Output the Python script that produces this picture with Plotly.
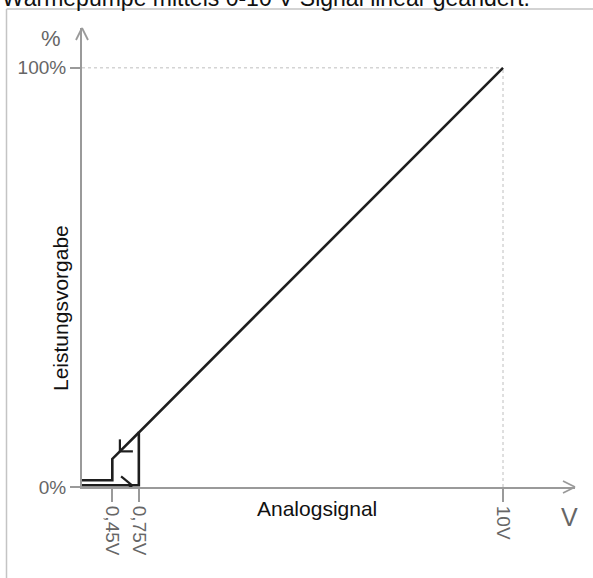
import plotly.graph_objects as go

# Schematische Kennlinie (Diagramm ist nicht maßstäblich: Positionen in "Diagramm-Einheiten")
tick_pos = [0.72, 1.35, 10.0]
tick_labels = ["0,45V", "0,75V", "10V"]
y_tick_vals = [0, 100]
y_tick_labels = ["0%", "100%"]

# Hochlauf: Signal steigt (unterer Pfad)
up_x = [0.0, 1.35, 1.35, 10.0]
up_y = [0.4, 0.4, 13.0, 100.0]
# Rücklauf: Signal fällt (Hysterese)
down_x = [1.35, 0.72, 0.72, 0.0]
down_y = [13.0, 6.7, 1.6, 1.6]

# Pfeilspitzen auf den Kurven
arrow_x = [1.19, 0.9]
arrow_y = [0.4, 8.5]

W, H = 593, 578
L, R, T, B = 82, 18, 28, 91
X_MAX, Y_MAX = 11.71, 109.5
FONT = "Liberation Sans, Arial, sans-serif"
AX = "#9a9a9a"
INK = "#1e1e1e"

fig = go.Figure()
for xs, ys in [(up_x, up_y), (down_x, down_y)]:
    fig.add_trace(go.Scatter(x=xs, y=ys, mode="lines", cliponaxis=False,
                             line=dict(color=INK, width=2.6), hoverinfo="skip"))


def chevron(x, y, arms, color, width, ref="data"):
    # zwei kurze Linien in Pixel-Offsets, verankert an der Spitze
    for dx, dy in arms:
        fig.add_shape(type="line", xref="x" if ref == "data" else "paper",
                      yref="y" if ref == "data" else "paper",
                      xsizemode="pixel", ysizemode="pixel", xanchor=x, yanchor=y,
                      x0=0, y0=0, x1=dx, y1=dy, line=dict(color=color, width=width))


# Pfeil nach rechts (Hochlauf) und nach links unten (Rücklauf)
chevron(arrow_x[0], arrow_y[0], [(-11, 9), (-11, -9)], INK, 2.2)
chevron(arrow_x[1], arrow_y[1], [(0, 12), (13, 0)], INK, 2.2)

# Achsenpfeile
chevron(1, 0, [(-12, 6), (-12, -6)], AX, 1.8, ref="paper")
chevron(0, 1, [(-6, -12), (6, -12)], AX, 1.8, ref="paper")

# gepunktete Hilfslinien 100% / 10V
fig.add_shape(type="line", x0=0, x1=tick_pos[-1], y0=y_tick_vals[-1], y1=y_tick_vals[-1],
              line=dict(color="#d4d4d4", width=1.5, dash="dot"), layer="below")
fig.add_shape(type="line", x0=tick_pos[-1], x1=tick_pos[-1], y0=0, y1=y_tick_vals[-1],
              line=dict(color="#d4d4d4", width=1.5, dash="dot"), layer="below")


def px_to_paper(px, py):
    return (px - L) / (W - L - R), (H - B - py) / (H - T - B)


# Rahmen links/oben
x6, y9 = px_to_paper(6.5, 9)
_, ybot = px_to_paper(0, H)
xr, _ = px_to_paper(W, 0)
fig.add_shape(type="line", xref="paper", yref="paper", x0=x6, x1=x6, y0=ybot, y1=y9,
              line=dict(color="#c4c4c4", width=1.5))
fig.add_shape(type="line", xref="paper", yref="paper", x0=x6, x1=xr, y0=y9, y1=y9,
              line=dict(color="#c4c4c4", width=1.5))

annots = [
    ("Wärmepumpe mittels 0-10 V Signal linear geändert.", 0, 13, "left", "bottom", 0, 23, "#111"),
    ("Analogsignal", 317, 508, "center", "middle", 0, 21, "#111"),
    ("Leistungsvorgabe", 60, 308, "center", "middle", -90, 21, "#111"),
    ("%", 51, 39, "center", "middle", 0, 22, "#666"),
    ("V", 569, 517, "center", "middle", 0, 25, "#666"),
]
for text, px, py, xa, ya, ang, size, col in annots:
    ax_, ay_ = px_to_paper(px, py)
    fig.add_annotation(x=ax_, y=ay_, xref="paper", yref="paper", text=text, showarrow=False,
                       xanchor=xa, yanchor=ya, textangle=ang,
                       font=dict(family=FONT, size=size, color=col))

fig.update_xaxes(range=[0, X_MAX], showgrid=False, zeroline=False,
                 showline=True, linecolor=AX, linewidth=2,
                 tickvals=tick_pos, ticktext=tick_labels, tickangle=90,
                 ticks="outside", ticklen=13, tickwidth=1.5, tickcolor=AX,
                 tickfont=dict(family=FONT, size=19, color="#666"))
fig.update_yaxes(range=[0, Y_MAX], showgrid=False, zeroline=False,
                 showline=True, linecolor=AX, linewidth=2,
                 tickvals=y_tick_vals, ticktext=y_tick_labels,
                 ticks="outside", ticklen=10, tickwidth=1.5, tickcolor=AX,
                 tickfont=dict(family=FONT, size=19, color="#666"))

fig.update_layout(width=W, height=H, margin=dict(l=L, r=R, t=T, b=B),
                  paper_bgcolor="white", plot_bgcolor="white", showlegend=False)

# Seitenrand des Browsers entfernen, damit die Grafik bei (0,0) beginnt
fig.write_html("out.html", config={"displayModeBar": False},
               post_script="document.body.style.margin='0';")
